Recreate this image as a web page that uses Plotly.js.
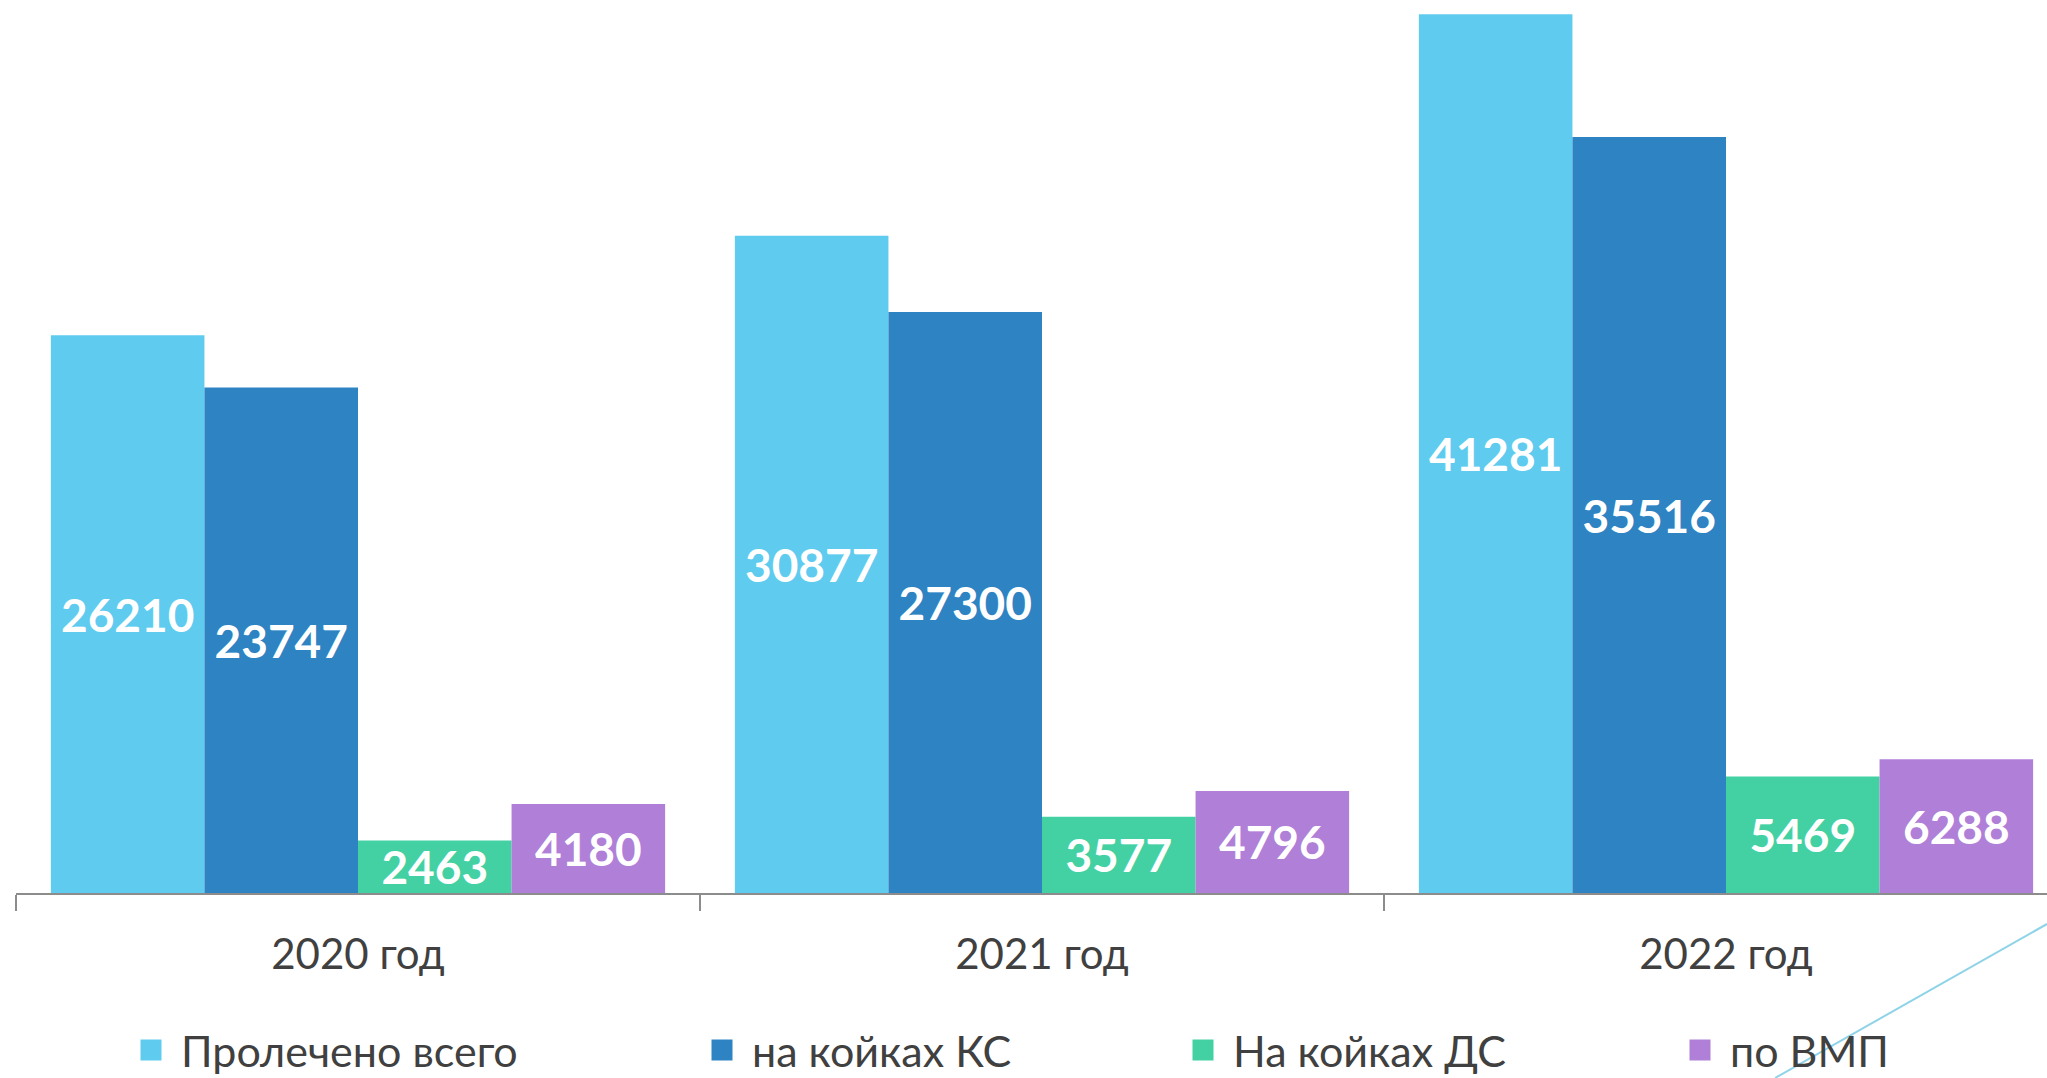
<!DOCTYPE html>
<html>
<head>
<meta charset="utf-8">
<script src="https://cdn.plot.ly/plotly-3.0.1.min.js"></script>
<style>
html, body { margin: 0; padding: 0; background: #ffffff; }
#chart { width: 2047px; height: 1078px; }
</style>
</head>
<body>
<div id="chart"></div>
<script>
// ---- data ----
const categories = ['2020 год', '2021 год', '2022 год'];
const seriesNames = ['Пролечено всего', 'на койках КС', 'На койках ДС', 'по ВМП'];
const treatedTotal = [26210, 30877, 41281];
const bedsKS = [23747, 27300, 35516];
const bedsDS = [2463, 3577, 5469];
const vmp = [4180, 4796, 6288];

const seriesValues = [treatedTotal, bedsKS, bedsDS, vmp];
const colors = ['#5FCBEF', '#2E83C3', '#43D1A3', '#B07FD8'];

const legendLeft = [121, 692, 1173, 1670];
const legendIds = ['legend', 'legend2', 'legend3', 'legend4'];

const traces = [];
seriesValues.forEach((vals, i) => {
  traces.push({
    type: 'bar',
    name: seriesNames[i],
    x: categories,
    y: vals,
    marker: { color: colors[i], line: { width: 0 } },
    text: vals.map(v => String(v)),
    textposition: 'inside',
    insidetextanchor: 'middle',
    constraintext: 'none',
    textangle: 0,
    textfont: { family: 'Lato', size: 46, color: '#ffffff', weight: 'bold' },
    hoverinfo: 'skip',
    showlegend: false
  });
});
// legend entries
seriesNames.forEach((nm, i) => {
  traces.push({
    type: 'scatter',
    mode: 'markers',
    name: nm,
    x: [null],
    y: [null],
    marker: { symbol: 'square', size: 16, color: colors[i], line: { color: colors[i], width: 6 } },
    showlegend: true,
    legend: legendIds[i],
    hoverinfo: 'skip'
  });
});

const legendFont = { family: 'Lato', size: 43, color: '#404040' };
function mkLegend(i) {
  return {
    xref: 'container', yref: 'container',
    x: legendLeft[i] / 2047, y: 1 - 1050 / 1078,
    xanchor: 'left', yanchor: 'middle',
    orientation: 'h',
    itemwidth: 50,
    font: legendFont,
    bgcolor: 'rgba(0,0,0,0)',
    borderwidth: 0
  };
}

const layout = {
  width: 2047,
  height: 1078,
  margin: { l: 16, r: 0, t: 0, b: 185 },
  paper_bgcolor: '#ffffff',
  plot_bgcolor: '#ffffff',
  barmode: 'group',
  bargap: 0.102,
  bargroupgap: 0,
  showlegend: true,
  legend: mkLegend(0),
  legend2: mkLegend(1),
  legend3: mkLegend(2),
  legend4: mkLegend(3),
  xaxis: {
    type: 'category',
    categoryorder: 'array',
    categoryarray: categories,
    range: [-0.5, 2.4693],
    tickson: 'boundaries',
    ticks: 'outside',
    ticklen: 16,
    tickwidth: 2,
    tickcolor: '#8c8c8c',
    showline: true,
    linecolor: '#8c8c8c',
    linewidth: 2,
    showgrid: false,
    zeroline: false,
    ticklabelstandoff: 24,
    tickfont: { family: 'Lato', size: 42, color: '#404040' },
    fixedrange: true
  },
  yaxis: {
    visible: false,
    range: [0, 41956],
    showgrid: false,
    zeroline: false,
    fixedrange: true
  },
  shapes: [{
    type: 'line', xref: 'paper', yref: 'paper',
    x0: 1, y0: -0.0347, x1: 0.8661, y1: -0.2072,
    line: { color: '#8fd3e8', width: 2 },
    layer: 'below'
  }]
};

Plotly.newPlot('chart', traces, layout, { displayModeBar: false, staticPlot: true });
</script>
</body>
</html>
